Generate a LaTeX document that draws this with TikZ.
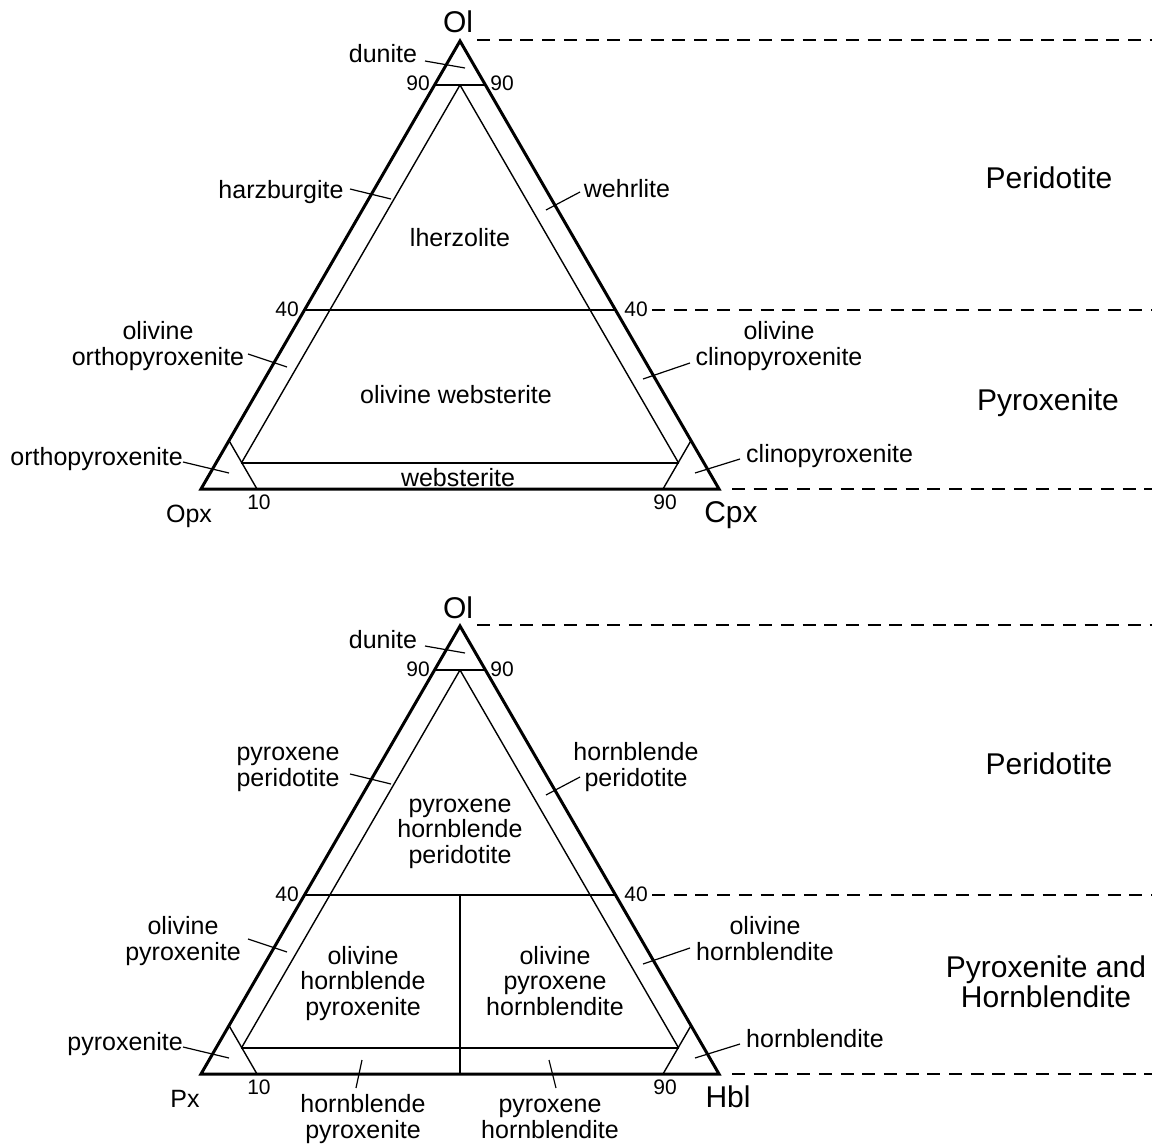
\documentclass[tikz,border=0pt]{standalone}
\usepackage{fontspec}
\setmainfont{Liberation Sans}
\newcommand\DrawTriFrame{%
  \coordinate (A) at (460,41);
  \coordinate (L) at (201,489);
  \coordinate (R) at (719,489);
  \coordinate (n1) at (434.6,85);
  \coordinate (n2) at (485.4,85);
  \coordinate (I) at (460,85);
  \coordinate (f1) at (304.5,310);
  \coordinate (f2) at (615.5,310);
  \coordinate (w1) at (241.4,463);
  \coordinate (w2) at (678.6,463);
  \coordinate (c1) at (257,489);
  \coordinate (c1t) at (229,440.6);
  \coordinate (c2) at (663,489);
  \coordinate (c2t) at (691,440.6);
  \coordinate (g1) at (477,40);
  \coordinate (g2) at (652,310);
  \coordinate (g3) at (732,489);
  \coordinate (g1e) at (1152,40);
  \coordinate (g2e) at (1152,310);
  \coordinate (g3e) at (1152,489);
  \draw[inner] (n1) -- (n2);
  \draw[inner] (I) -- (w1);
  \draw[inner] (I) -- (w2);
  \draw[inner] (f1) -- (f2);
  \draw[inner] (w1) -- (w2);
  \draw[inner] (c1) -- (c1t);
  \draw[inner] (c2) -- (c2t);
  \draw[frame] (A) -- (L) -- (R) -- cycle;
  \draw[guide] (g1) -- (g1e);
  \draw[guide] (g2) -- (g2e);
  \draw[guide] (g3) -- (g3e);
  \node[big] (ol) at (458,33) {Ol};
  \node[lbl] (dun) at (383,63) {dunite};
  \coordinate (dunA) at (425,61);
  \coordinate (dunB) at (465,68);
  \draw[leader] (dunA) -- (dunB);
  \node[num] (n90a) at (418,91) {90};
  \node[num] (n90b) at (502,91) {90};
  \node[num] (n40a) at (287,316) {40};
  \node[num] (n40b) at (636,316) {40};
  \node[num] (n10c) at (259,509) {10};
  \node[num] (n90c) at (665,509) {90};
  \coordinate (olA) at (183,462);
  \coordinate (olB) at (229,473);
  \draw[leader] (olA) -- (olB);
  \coordinate (orA) at (740,459);
  \coordinate (orB) at (695,473);
  \draw[leader] (orA) -- (orB);
  \coordinate (ulA) at (248,354);
  \coordinate (ulB) at (287,367);
  \draw[leader] (ulA) -- (ulB);
  \coordinate (urA) at (690,363);
  \coordinate (urB) at (643,379);
  \draw[leader] (urA) -- (urB);
  \coordinate (tlA) at (350,189);
  \coordinate (tlB) at (391,199);
  \draw[leader] (tlA) -- (tlB);
  \coordinate (trA) at (546,210);
  \coordinate (trB) at (580,192);
  \draw[leader] (trA) -- (trB);
}
\begin{document}
\begin{tikzpicture}[x=1pt,y=-1pt,
  frame/.style={line width=3pt, line join=miter},
  inner/.style={line width=1.4pt},
  leader/.style={line width=1.2pt},
  lbl/.style={font=\fontsize{25}{25.5}\selectfont, align=center, anchor=base, inner sep=0pt},
  lble/.style={font=\fontsize{25}{25.5}\selectfont, anchor=base east, inner sep=0pt},
  lblw/.style={font=\fontsize{25}{25.5}\selectfont, anchor=base west, inner sep=0pt},
  big/.style={font=\fontsize{30}{30}\selectfont, align=center, anchor=base, inner sep=0pt},
  num/.style={font=\fontsize{21}{21}\selectfont, anchor=base, inner sep=0pt},
  guide/.style={line width=1.2pt, dash pattern=on 13pt off 8.7pt}]
\path[use as bounding box, fill=white] (0,0) rectangle (1154,1145);
% ---------- upper diagram ----------
\begin{scope}[name prefix=t-]
  \DrawTriFrame
  \node[lbl] (harz) at (281,198) {harzburgite};
  \node[lbl] (wehr) at (627,197) {wehrlite};
  \node[lbl] (lherz) at (460,246) {lherzolite};
  \node[lbl] (oopx) at (158,365) {olivine\\orthopyroxenite};
  \node[lbl] (ocpx) at (779,365) {olivine\\clinopyroxenite};
  \node[lbl] (owebs) at (456,403) {olivine websterite};
  \node[lble] (opxite) at (183,465) {orthopyroxenite};
  \node[lblw] (cpxite) at (746,462) {clinopyroxenite};
  \node[lbl] (webs) at (458,486) {websterite};
  \node[lbl] (opx) at (189,522) {Opx};
  \node[big] (cpx) at (731,522) {Cpx};
  \node[big] (perid) at (1049,189) {Peridotite};
  \node[big] (pyrox) at (1048,410) {Pyroxenite};
\end{scope}
% ---------- lower diagram ----------
\begin{scope}[shift={(0,585)}, name prefix=b-]
  \DrawTriFrame
  \coordinate (v1) at (460,310);
  \coordinate (v2) at (460,489);
  \draw[inner] (v1) -- (v2);
  \node[lbl] (pperid) at (288,201) {pyroxene\\peridotite};
  \node[lbl] (hperid) at (636,201) {hornblende\\peridotite};
  \node[lbl] (phperid) at (460,278) {pyroxene\\hornblende\\peridotite};
  \node[lbl] (opyr) at (183,375) {olivine\\pyroxenite};
  \node[lbl] (ohbl) at (765,375) {olivine\\hornblendite};
  \node[lbl] (ohpyr) at (363,430) {olivine\\hornblende\\pyroxenite};
  \node[lbl] (ophbl) at (555,430) {olivine\\pyroxene\\hornblendite};
  \node[lble] (pyrite) at (183,465) {pyroxenite};
  \node[lblw] (hblite) at (746,462) {hornblendite};
  \node[lbl] (hpyr) at (363,553) {hornblende\\pyroxenite};
  \node[lbl] (phbl) at (550,553) {pyroxene\\hornblendite};
  \coordinate (hpA) at (362,475);
  \coordinate (hpB) at (356,503);
  \draw[leader] (hpA) -- (hpB);
  \coordinate (phA) at (549,475);
  \coordinate (phB) at (556,503);
  \draw[leader] (phA) -- (phB);
  \node[lbl] (px) at (185,522) {Px};
  \node[big] (hbl) at (728,522) {Hbl};
  \node[big] (perid) at (1049,189) {Peridotite};
  \node[big] (pyhb) at (1046,422) {Pyroxenite and\\Hornblendite};
\end{scope}
\end{tikzpicture}
\end{document}
